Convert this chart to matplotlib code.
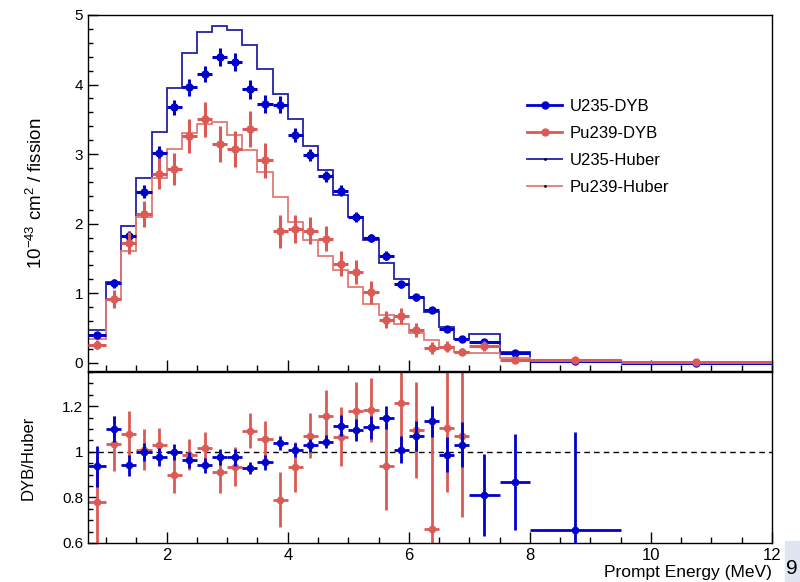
import numpy as np
import matplotlib.pyplot as plt
from matplotlib.lines import Line2D
from matplotlib.patches import Rectangle
from matplotlib.ticker import MultipleLocator, FormatStrFormatter

plt.rcParams['font.family'] = ['Liberation Sans', 'DejaVu Sans']
plt.rcParams['mathtext.fontset'] = 'custom'
plt.rcParams['mathtext.rm'] = 'Liberation Sans'
plt.rcParams['mathtext.default'] = 'rm'

# prompt energy bins (MeV)
bin_edges = [0.7, 1.0, 1.25, 1.5, 1.75, 2.0, 2.25, 2.5, 2.75, 3.0, 3.25, 3.5, 3.75,
             4.0, 4.25, 4.5, 4.75, 5.0, 5.25, 5.5, 5.75, 6.0, 6.25, 6.5, 6.75, 7.0,
             7.5, 8.0, 9.5, 12.0]

# measured spectra, 1e-43 cm2 / fission
u235_dyb = [0.40, 1.14, 1.82, 2.46, 3.01, 3.67, 3.96, 4.15, 4.39, 4.33, 3.93, 3.72, 3.71,
            3.28, 2.99, 2.68, 2.47, 2.10, 1.79, 1.54, 1.13, 0.94, 0.76, 0.48, 0.34, 0.30,
            0.135, 0.017, 0.002]
u235_dyb_err = [0.035, 0.065, 0.08, 0.09, 0.10, 0.11, 0.12, 0.12, 0.13, 0.13, 0.14, 0.13,
                0.12, 0.10, 0.09, 0.08, 0.08, 0.07, 0.06, 0.06, 0.05, 0.05, 0.04, 0.03,
                0.03, 0.04, 0.025, 0.01, 0.004]
pu239_dyb = [0.26, 0.92, 1.72, 2.14, 2.72, 2.79, 3.26, 3.50, 3.15, 3.07, 3.36, 2.91, 1.89,
             1.92, 1.90, 1.78, 1.42, 1.30, 1.01, 0.62, 0.67, 0.47, 0.21, 0.23, 0.16, 0.24,
             0.045, 0.04, 0.005]
pu239_dyb_err = [0.07, 0.13, 0.16, 0.19, 0.22, 0.23, 0.24, 0.25, 0.26, 0.26, 0.26, 0.25,
                 0.24, 0.20, 0.20, 0.18, 0.18, 0.17, 0.17, 0.125, 0.12, 0.10, 0.09, 0.08,
                 0.05, 0.07, 0.03, 0.02, 0.01]

# Huber model predictions
u235_huber = [0.47, 1.16, 1.97, 2.65, 3.32, 3.95, 4.46, 4.76, 4.84, 4.78, 4.57, 4.22, 3.87,
              3.50, 3.12, 2.77, 2.41, 2.10, 1.76, 1.44, 1.21, 0.93, 0.73, 0.52, 0.34, 0.41,
              0.155, 0.025, 0.003]
pu239_huber = [0.34, 0.90, 1.60, 2.10, 2.65, 3.07, 3.30, 3.43, 3.46, 3.28, 3.06, 2.74, 2.38,
               2.03, 1.77, 1.53, 1.33, 1.09, 0.85, 0.69, 0.56, 0.42, 0.32, 0.23, 0.15, 0.14,
               0.065, 0.045, 0.006]

# DYB / Huber ratios
nan = np.nan
ratio_u235 = [0.936, 1.10, 0.94, 1.00, 0.976, 1.00, 0.965, 0.94, 0.976, 0.976, 0.928, 0.955,
              1.04, 1.009, 1.028, 1.045, 1.115, 1.096, 1.108, 1.149, 1.009, 1.07, 1.133,
              0.987, 1.032, 0.81, 0.867, 0.655, nan]
ratio_u235_err = [0.09, 0.057, 0.045, 0.04, 0.04, 0.035, 0.035, 0.032, 0.035, 0.037, 0.026,
                  0.033, 0.03, 0.03, 0.03, 0.03, 0.045, 0.047, 0.05, 0.05, 0.06, 0.065, 0.07,
                  0.077, 0.1, 0.18, 0.21, 0.43, nan]
ratio_pu239 = [0.78, 1.035, 1.08, 1.01, 1.028, 0.90, 0.988, 1.018, 0.91, 0.935, 1.093, 1.057,
               0.79, 0.933, 1.071, 1.159, 1.067, 1.181, 1.185, 0.936, 1.213, 1.096, 0.663,
               1.105, 1.071, nan, nan, nan, nan]
ratio_pu239_err = [0.2, 0.12, 0.1, 0.09, 0.075, 0.08, 0.07, 0.07, 0.09, 0.085, 0.078, 0.08,
                   0.12, 0.11, 0.1, 0.11, 0.13, 0.125, 0.14, 0.19, 0.2, 0.21, 0.54, 0.28,
                   0.355, nan, nan, nan, nan]

edges = np.array(bin_edges)
centers = (edges[:-1] + edges[1:]) / 2
half_w = (edges[1:] - edges[:-1]) / 2

blue = '#0000cc'
red = '#dc5a55'
blue_h = '#2222a8'
red_h = '#e27a74'

fig = plt.figure(figsize=(8, 5.82), dpi=100)
ax1 = fig.add_axes([88 / 800, 1 - 371 / 582, 684 / 800, 356 / 582])
ax2 = fig.add_axes([88 / 800, 1 - 543 / 582, 684 / 800, 171 / 582])

# top panel
ax1.stairs(u235_huber, edges, color=blue_h, lw=1.3, baseline=None, zorder=2)
ax1.stairs(pu239_huber, edges, color=red_h, lw=1.3, baseline=None, zorder=2)
ax1.errorbar(centers, u235_dyb, xerr=half_w, yerr=u235_dyb_err, fmt='o', color=blue,
             ms=5, elinewidth=2.2, capsize=0, zorder=3)
ax1.errorbar(centers, pu239_dyb, xerr=half_w, yerr=pu239_dyb_err, fmt='o', color=red,
             ms=5, elinewidth=2.2, capsize=0, zorder=4)
ax1.set_xlim(0.7, 12)
ax1.set_ylim(-0.12, 5.0)
ax1.set_ylabel('10$^{-43}$ cm$^{2}$ / fission', fontsize=13.5)
ax1.yaxis.set_label_coords(-0.062, 0.5)
ax1.yaxis.set_major_locator(MultipleLocator(1))
ax1.yaxis.set_minor_locator(MultipleLocator(0.2))
ax1.tick_params(axis='x', labelbottom=False)

# bottom panel
ax2.axhline(1.0, color='black', lw=1, ls=(0, (4, 3)), zorder=1)
ax2.errorbar(centers, ratio_pu239, xerr=half_w, yerr=ratio_pu239_err, fmt='o', color=red,
             ms=4.5, elinewidth=2, capsize=0, zorder=2)
ax2.errorbar(centers, ratio_u235, xerr=half_w, yerr=ratio_u235_err, fmt='o', color=blue,
             ms=4.5, elinewidth=2, capsize=0, zorder=3)
ax2.set_xlim(0.7, 12)
ax2.set_ylim(0.6, 1.35)
ax2.set_ylabel('DYB/Huber', fontsize=12)
ax2.yaxis.set_label_coords(-0.076, 0.5)
ax2.yaxis.set_major_locator(MultipleLocator(0.2))
ax2.yaxis.set_minor_locator(MultipleLocator(0.05))
ax2.yaxis.set_major_formatter(FormatStrFormatter('%g'))

for ax in (ax1, ax2):
    ax.xaxis.set_major_locator(MultipleLocator(2))
    ax.xaxis.set_minor_locator(MultipleLocator(0.5))
    ax.tick_params(which='both', direction='in', top=False, right=False, width=1)
    ax.tick_params(axis='x', which='major', length=8, labelsize=12)
    ax.tick_params(axis='x', which='minor', length=4)
    ax.tick_params(axis='y', which='major', length=7, labelsize=11)
    ax.tick_params(axis='y', which='minor', length=3.5)
    for s in ax.spines.values():
        s.set_linewidth(1)

fig.text(772 / 800, 1 - 572 / 582, 'Prompt Energy (MeV)', fontsize=12.5,
         ha='right', va='center')

handles = [
    Line2D([], [], color=blue, lw=2, marker='o', ms=5),
    Line2D([], [], color=red, lw=2, marker='o', ms=5),
    Line2D([], [], color=blue_h, lw=1.3, marker='.', ms=2, mfc='k', mec='k'),
    Line2D([], [], color=red_h, lw=1.3, marker='.', ms=2, mfc='k', mec='k'),
]
labels = ['U235-DYB', 'Pu239-DYB', 'U235-Huber', 'Pu239-Huber']
fig.legend(handles, labels, loc='upper left', bbox_to_anchor=(527 / 800, 1 - 99 / 582),
           frameon=False, fontsize=12, handlelength=2.1, handletextpad=0.45,
           labelspacing=0.72, borderpad=0, borderaxespad=0)

# cropped edge of the original page
fig.patches.append(Rectangle((785 / 800, 0), 15 / 800, 41 / 582, transform=fig.transFigure,
                             color='#dfe6ef', zorder=0))
fig.text(786 / 800, 1 - 569 / 582, '9', fontsize=15, ha='left', va='center')

fig.savefig('out.png', dpi=100)
